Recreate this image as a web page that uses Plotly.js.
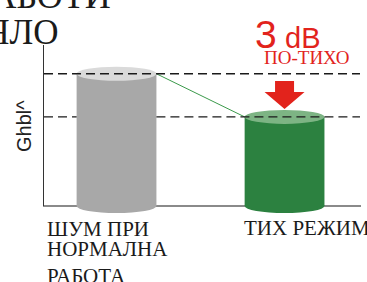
<!DOCTYPE html>
<html>
<head>
<meta charset="utf-8">
<script src="https://cdn.plot.ly/plotly-3.0.1.min.js"></script>
<style>html,body{margin:0;padding:0;background:#fff;}#chart{width:367px;height:282px;}</style>
</head>
<body>
<div id="chart"></div>
<script>
// ---- data ----
const categories = ['ШУМ ПРИ НОРМАЛНА РАБОТА', 'ТИХ РЕЖИМ'];
const labelLines = [['ШУМ ПРИ', 'НОРМАЛНА', 'РАБОТА'], ['ТИХ РЕЖИМ']];
const noiseLevel = [9.2, 6.2];          // relative level (dB)
const calloutValue = '3';
const calloutUnit = 'dB';
const calloutText = 'ПО-ТИХО';
const yLabel = 'Ghbl^';
const titleLines = ['РАБОТИ', 'ЦЯЛО'];

// ---- styles ----
const bodyColors = ['#a8a8a8', '#2c8140'];
const topColors = ['#dadada', '#7db484'];
const red = '#e2231c';
const barW = 0.475;
const xr = [-0.4375, 1.455];
const yr = [-0.626, 11.2];
const xs = categories.map((c, i) => i);
const serif = 'Liberation Serif, Times New Roman, serif';
const sans = 'Liberation Sans, Arial, sans-serif';

const shapes = [];
// axis lines
shapes.push({type: 'line', layer: 'between', xref: 'x', yref: 'y', x0: xr[0], x1: xr[1], y0: 0, y1: 0,
  line: {color: '#8a8a8a', width: 2}});
shapes.push({type: 'line', layer: 'between', xref: 'x', yref: 'y', x0: xr[0] + 0.003, x1: xr[0] + 0.003, y0: 0, y1: yr[1],
  line: {color: '#333', width: 1}});
// bottom ellipses
xs.forEach((x, i) => shapes.push({type: 'circle', layer: 'between', xref: 'x', yref: 'y', ysizemode: 'pixel', yanchor: 0,
  x0: x - barW / 2, x1: x + barW / 2, y0: -7, y1: 7, fillcolor: bodyColors[i], line: {width: 0}}));
// top ellipses
xs.forEach((x, i) => shapes.push({type: 'circle', layer: 'above', xref: 'x', yref: 'y', ysizemode: 'pixel', yanchor: noiseLevel[i],
  x0: x - barW / 2, x1: x + barW / 2, y0: -7, y1: 7, fillcolor: topColors[i], line: {width: 0}}));
// connecting line
shapes.push({type: 'line', layer: 'above', xref: 'x', yref: 'y', x0: xs[0] + barW / 2, y0: noiseLevel[0], x1: xs[1] - barW / 2, y1: noiseLevel[1],
  line: {color: '#3b9a4b', width: 1}});
// dashed reference lines
const dash = {color: '#1a1a1a', width: 1.4, dash: '9px,5px'};
shapes.push({type: 'line', layer: 'above', xref: 'x', yref: 'y', x0: xr[0] + 0.006, x1: xr[1] - 0.006, y0: noiseLevel[0], y1: noiseLevel[0], line: dash});
shapes.push({type: 'line', layer: 'above', xref: 'x', yref: 'y', x0: xr[0] + 0.006, x1: xs[0] - barW / 2, y0: noiseLevel[1], y1: noiseLevel[1], line: dash});
shapes.push({type: 'line', layer: 'above', xref: 'x', yref: 'y', x0: xs[0] + barW / 2, x1: xr[1] - 0.006, y0: noiseLevel[1], y1: noiseLevel[1], line: dash});
// red arrow
shapes.push({type: 'path', layer: 'above', xref: 'x', yref: 'y', xsizemode: 'pixel', ysizemode: 'pixel',
  xanchor: xs[1], yanchor: noiseLevel[1],
  path: 'M0,8 L-20,25 L-9.5,25 L-9.5,36 L9.5,36 L9.5,25 L20,25 Z', fillcolor: red, line: {width: 0}});

const annotations = [];
// category labels
const labelShift = [-71.7, -43];
const lineShift = [-23, -43, -70];
labelLines.forEach((lines, i) => lines.forEach((t, j) => annotations.push({
  text: t, xref: 'x', yref: 'y', x: xs[i], y: 0, xanchor: 'left', yanchor: 'middle',
  xshift: labelShift[i], yshift: lineShift[j] + (i === 1 ? 1.5 : 0), showarrow: false,
  font: {family: serif, size: 21, color: '#1a1a1a'}})));
// callout
annotations.push({text: calloutValue, xref: 'x', yref: 'y', x: xs[1], y: noiseLevel[1], xshift: -18.5, yshift: 82,
  xanchor: 'center', yanchor: 'middle', showarrow: false, font: {family: sans, size: 39, color: red}});
annotations.push({text: calloutUnit, xref: 'x', yref: 'y', x: xs[1], y: noiseLevel[1], xshift: 17.5, yshift: 78.5,
  xanchor: 'center', yanchor: 'middle', showarrow: false, font: {family: sans, size: 29, color: red}});
annotations.push({text: calloutText, xref: 'x', yref: 'y', x: xs[1], y: noiseLevel[1], xshift: 22, yshift: 59,
  xanchor: 'center', yanchor: 'middle', showarrow: false, font: {family: serif, size: 19, color: red}});
// y label
annotations.push({text: yLabel, xref: 'paper', yref: 'paper', x: -0.0597, y: 0.5235, textangle: -90,
  xanchor: 'center', yanchor: 'middle', showarrow: false, font: {family: sans, size: 20, color: '#222'}});
// title fragments
annotations.push({text: titleLines[0], xref: 'paper', yref: 'paper', x: 0.22, y: 1.29, xanchor: 'right', yanchor: 'middle',
  showarrow: false, font: {family: serif, size: 36, color: '#1a1a1a'}});
annotations.push({text: titleLines[1], xref: 'paper', yref: 'paper', x: 0.0566, y: 1.073, xanchor: 'right', yanchor: 'middle',
  showarrow: false, font: {family: serif, size: 35, color: '#1a1a1a'}});

const trace = {type: 'bar', x: xs, y: noiseLevel, width: barW, base: 0,
  marker: {color: bodyColors, line: {width: 0}}, hoverinfo: 'skip', text: categories, textposition: 'none'};

const layout = {
  width: 367, height: 282, margin: {l: 43, r: 6, t: 45, b: 67},
  paper_bgcolor: '#fff', plot_bgcolor: '#fff', showlegend: false,
  xaxis: {range: xr, visible: false, fixedrange: true},
  yaxis: {range: yr, visible: false, fixedrange: true},
  shapes: shapes, annotations: annotations
};
Plotly.newPlot('chart', [trace], layout, {staticPlot: true, displayModeBar: false});
</script>
</body>
</html>
